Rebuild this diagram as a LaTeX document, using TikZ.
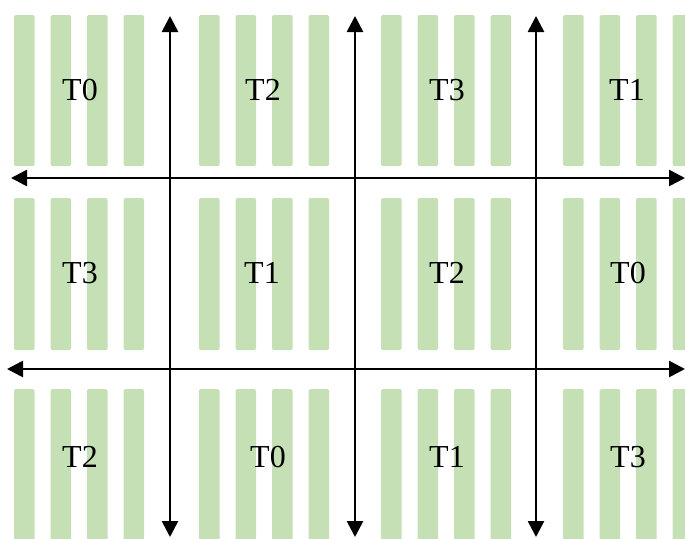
\documentclass[tikz,border=0pt]{standalone}
\usepackage{fontspec}
\setmainfont{Liberation Serif}
\usetikzlibrary{arrows.meta}
\definecolor{barGreen}{HTML}{C5E0B4}
\begin{document}
\begin{tikzpicture}[x=1pt,y=-1pt,
  bar/.style={fill=barGreen,draw=none,rounded corners=1.5pt},
  axis/.style={line width=2.7pt,{Triangle[length=16pt,width=16pt]}-{Triangle[length=16pt,width=16pt]}},
  tag/.style={font=\fontsize{32}{32}\selectfont,inner sep=0pt}]
\useasboundingbox (0,0) rectangle (685,538);
\begin{scope}
\clip (0,0) rectangle (685,538);
% four bars per tile, three rows by four columns
\foreach \cx in {14,199,381,563}{
  \foreach \ry/\rb in {15/166,198/350,389/545}{
    \foreach \k in {0,1,2,3}{
      \fill[bar] (\cx+\k*36.5,\ry) rectangle (\cx+\k*36.5+20.5,\rb);
    }
  }
}
\end{scope}
% thread labels
\node[tag] (a00) at (80,90) {T0};
\node[tag] (a01) at (263,90) {T2};
\node[tag] (a02) at (447,90) {T3};
\node[tag] (a03) at (627,90) {T1};
\node[tag] (a10) at (80,273) {T3};
\node[tag] (a11) at (262,273) {T1};
\node[tag] (a12) at (447,273) {T2};
\node[tag] (a13) at (628,273) {T0};
\node[tag] (a20) at (80,457) {T2};
\node[tag] (a21) at (268,457) {T0};
\node[tag] (a22) at (447,457) {T1};
\node[tag] (a23) at (628,457) {T3};
% axis end points
\coordinate (v1t) at (170,16);  \coordinate (v1b) at (170,537);
\coordinate (v2t) at (355,16);  \coordinate (v2b) at (355,537);
\coordinate (v3t) at (536,16);  \coordinate (v3b) at (536,537);
\coordinate (h1l) at (11,178);  \coordinate (h1r) at (685,178);
\coordinate (h2l) at (7,369);   \coordinate (h2r) at (685,369);
\draw[axis] (v1t) -- (v1b);
\draw[axis] (v2t) -- (v2b);
\draw[axis] (v3t) -- (v3b);
\draw[axis] (h1l) -- (h1r);
\draw[axis] (h2l) -- (h2r);
\end{tikzpicture}
\end{document}
